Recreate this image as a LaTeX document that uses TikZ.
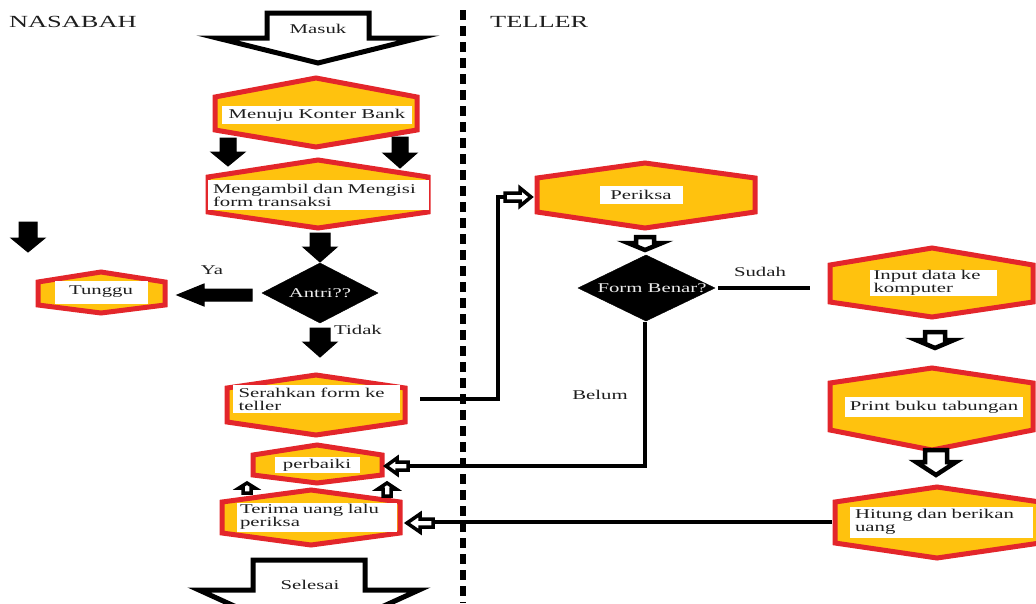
\documentclass[tikz,border=0pt]{standalone}
\usepackage{fontspec}
\setmainfont[FakeStretch=1.55]{Liberation Serif}
\definecolor{hexred}{HTML}{E3262B}
\definecolor{hexyel}{HTML}{FFC20E}
\definecolor{txt}{HTML}{1E1E1E}
\newcommand\fs{\fontsize{13.4}{13}\selectfont}
\newcommand\fl{\fontsize{17}{18}\selectfont}
% hexagon: left, right, centre x, top, shoulder1, shoulder2, bottom
\newcommand\hexa[7]{\draw[hexa] (#1,#5) -- (#3,#4) -- (#2,#5) -- (#2,#6) -- (#3,#7) -- (#1,#6) -- cycle;}
% vertical block arrow: style, cx, tail y, shoulder y, tip y, half shaft, half head
\newcommand\blkv[7]{\draw[#1] ({#2-#6},#3) -- ({#2+#6},#3) -- ({#2+#6},#4) -- ({#2+#7},#4) -- (#2,#5) -- ({#2-#7},#4) -- ({#2-#6},#4) -- cycle;}
% horizontal block arrow: style, cy, tail x, shoulder x, tip x, half shaft, half head
\newcommand\blkh[7]{\draw[#1] (#3,{#2-#6}) -- (#4,{#2-#6}) -- (#4,{#2-#7}) -- (#5,#2) -- (#4,{#2+#7}) -- (#4,{#2+#6}) -- (#3,{#2+#6}) -- cycle;}
\tikzset{
  hexa/.style={draw=hexred, fill=hexyel, line width=5pt, line join=miter},
  tbox/.style={fill=white, inner sep=0pt, font=\fs, text=txt},
  lbl/.style={inner sep=0pt, font=\fs, text=txt},
  dtext/.style={inner sep=0pt, font=\fs, text=white!92!black},
  solidarr/.style={fill=black, draw=black, line width=1pt, line join=miter},
  outarr/.style={fill=white, draw=black, line width=4.5pt, line join=miter},
  smallarr/.style={fill=white, draw=black, line width=3.5pt, line join=miter},
  bigarr/.style={fill=white, draw=black, line width=5pt, line join=miter},
  conn/.style={draw=black, line width=4pt},
  lane/.style={draw=black, line width=5.5pt, dash pattern=on 10pt off 6pt}
}
\begin{document}
\begin{tikzpicture}[x=1pt, y=-1pt]
\useasboundingbox (0,0) rectangle (1036,603);
\clip (0,0) rectangle (1036,603);

% swimlane labels and divider
\node[anchor=west, inner sep=0pt, font=\fl, text=txt] (nasabah) at (9,22) {NASABAH};
\node[anchor=west, inner sep=0pt, font=\fl, text=txt] (teller) at (490,22) {TELLER};
\coordinate (laneT) at (463,10);
\coordinate (laneB) at (463,603);
\draw[lane] (laneT) -- (laneB);

% start / end arrows
\blkv{bigarr}{318}{13}{38}{63}{51}{101}
\node[lbl] (masuk) at (318,29) {Masuk};
\blkv{bigarr}{309}{560}{590}{640}{56}{110}
\node[lbl] (selesai) at (310,585) {Selesai};

% hexagons
\hexa{215}{417}{316}{78}{97}{130}{147}
\node[tbox, minimum width=190, minimum height=18] (menuju) at (317,115) {Menuju Konter Bank};

\hexa{208}{428}{318}{160}{177}{212}{228}
\node[tbox, minimum width=221, minimum height=30, text width=210, align=left] (mengambil) at (318,195) {Mengambil dan Mengisi\\form transaksi};

\hexa{38}{165}{101}{272}{282}{305}{313}
\node[tbox, minimum width=93, minimum height=23] (tunggu) at (101,292) {Tunggu};

\hexa{227}{405}{316}{375}{388}{422}{435}
\node[tbox, minimum width=167, minimum height=28, text width=155, align=left] (serahkan) at (316,399) {Serahkan form ke\\teller};

\hexa{253}{382}{317}{445}{455}{475}{483}
\node[tbox, minimum width=85, minimum height=16] (perbaiki) at (317,465) {perbaiki};

\hexa{222}{400}{311}{490}{502}{533}{545}
\node[tbox, minimum width=160, minimum height=29, text width=154, align=left] (terima) at (317,517) {Terima uang lalu\\periksa};

\hexa{537}{755}{645}{163}{178}{212}{228}
\node[tbox, minimum width=83, minimum height=18] (periksa) at (641,195) {Periksa};

\hexa{830}{1033}{932}{248}{265}{302}{317}
\node[tbox, minimum width=127, minimum height=25, text width=119, align=left] (input) at (933,283) {Input data ke\\komputer};

\hexa{830}{1033}{932}{368}{383}{430}{450}
\node[tbox, minimum width=178, minimum height=20] (print) at (934,407) {Print buku tabungan};

\hexa{835}{1040}{937}{487}{502}{543}{558}
\node[tbox, minimum width=183, minimum height=31, text width=172, align=left] (hitung) at (941,522) {Hitung dan berikan\\uang};

% decisions
\draw[fill=black] (262,293) -- (320,263) -- (378,293) -- (320,323) -- cycle;
\node[dtext] (antri) at (320,293) {Antri??};
\draw[fill=black] (578,288) -- (646,255) -- (715,288) -- (646,321) -- cycle;
\node[dtext] (formbenar) at (652,288) {Form Benar?};

% solid block arrows
\blkv{solidarr}{228}{138}{152}{166}{8}{17}
\blkv{solidarr}{400}{137}{153}{168}{8}{17}
\blkv{solidarr}{320}{233}{247}{262}{10}{17}
\blkv{solidarr}{320}{328}{342}{357}{10}{17}
\blkv{solidarr}{28}{222}{238}{252}{9}{17}
\blkh{solidarr}{295}{252}{204}{177}{6}{11}

% outlined block arrows
\blkv{outarr}{645}{237}{243}{250}{9}{17}
\blkv{outarr}{935}{332}{340}{348}{10}{19}
\blkv{outarr}{936}{450}{462}{475}{11}{20}
\blkh{smallarr}{197}{505}{520}{531}{4}{9}
\blkh{smallarr}{466}{408}{397}{386}{4}{8}
\blkh{smallarr}{523}{433}{420}{407}{4}{9}
\blkv{smallarr}{247}{493}{488}{483}{4}{8}
\blkv{smallarr}{387}{496}{489}{483}{4}{9}

% connectors
\coordinate (serR) at (420,399);
\coordinate (bend1) at (498,399);
\coordinate (perL) at (504,197);
\draw[conn] (serR) -- (bend1) |- (perL);
\coordinate (fbB) at (645,322);
\coordinate (pbR) at (409,466);
\draw[conn] (fbB) |- (pbR);
\coordinate (fbR) at (718,288);
\coordinate (sudE) at (810,288);
\draw[conn] (fbR) -- (sudE);
\coordinate (hitL) at (832,522);
\coordinate (terR) at (434,522);
\draw[conn] (hitL) -- (terR);

% edge labels
\node[lbl] (ya) at (212,270) {Ya};
\node[lbl] (tidak) at (358,330) {Tidak};
\node[lbl] (sudah) at (760,272) {Sudah};
\node[lbl] (belum) at (600,395) {Belum};
\end{tikzpicture}
\end{document}
